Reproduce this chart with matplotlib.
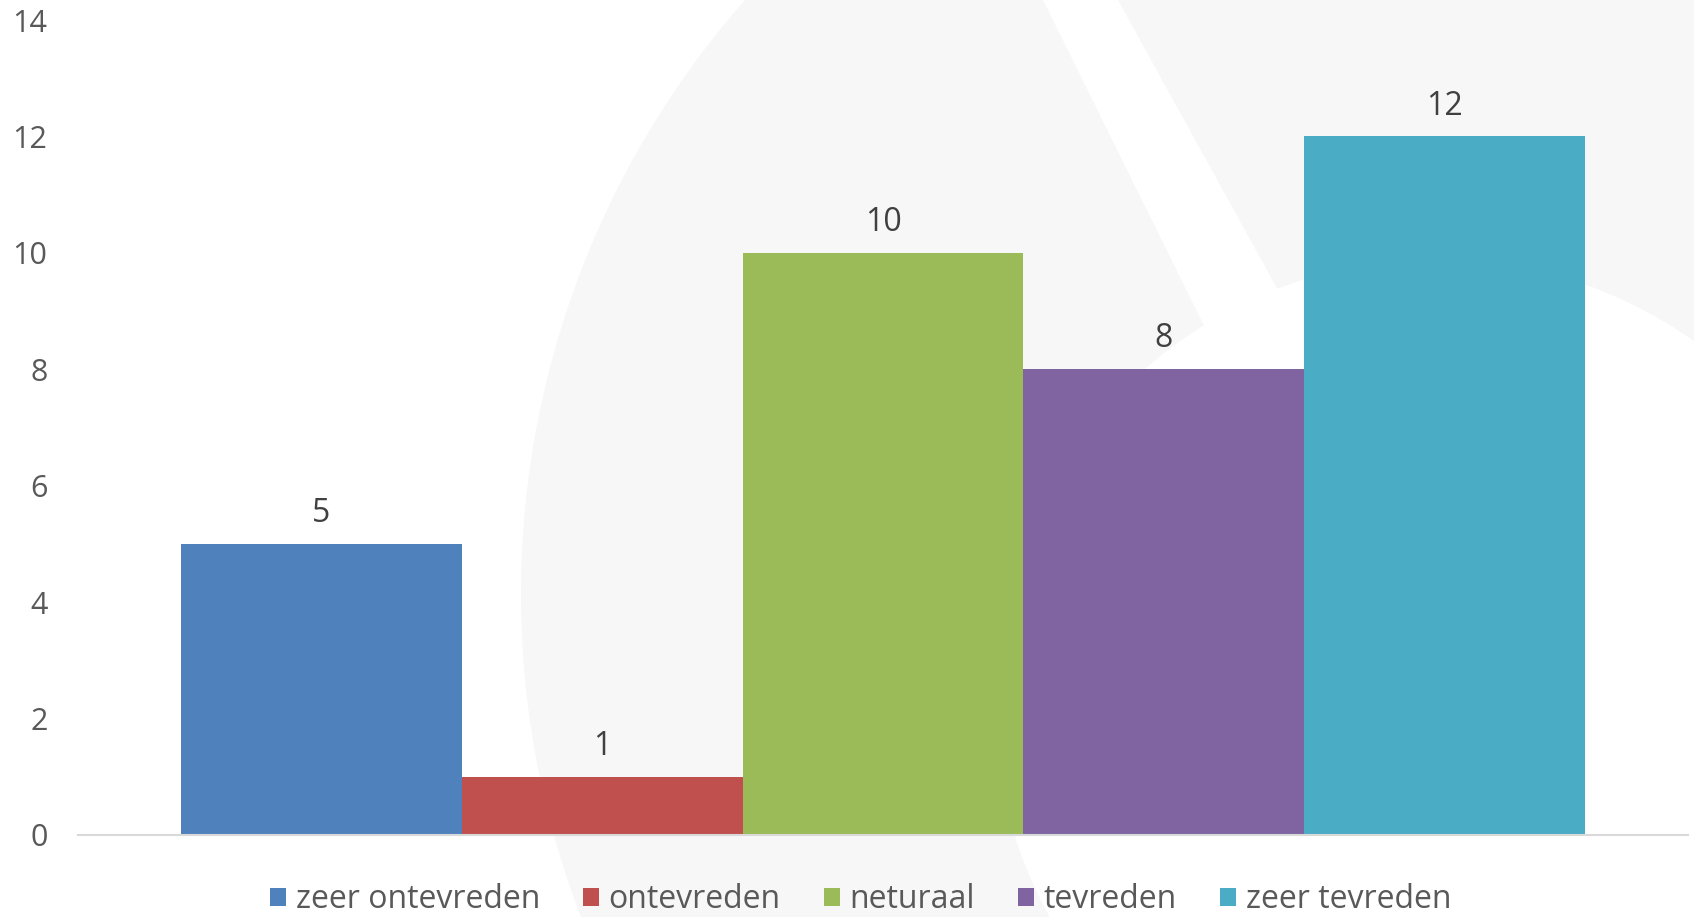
import matplotlib
matplotlib.use('Agg')
import matplotlib.pyplot as plt
from matplotlib.patches import Circle, Polygon, Patch

# survey answers (one category, five series)
categories = ['zeer ontevreden', 'ontevreden', 'neturaal', 'tevreden', 'zeer tevreden']
counts = [5, 1, 10, 8, 12]
colors = ['#4F81BD', '#C0504D', '#9BBB59', '#8064A2', '#4BACC6']
y_ticks = [0, 2, 4, 6, 8, 10, 12, 14]

plt.rcParams['font.family'] = ['Open Sans', 'DejaVu Sans']

fig = plt.figure(figsize=(16.94, 9.17), dpi=100)

# faint watermark behind the chart (figure pixel coordinates)
bg = fig.add_axes([0, 0, 1, 1], zorder=0)
bg.set_xlim(0, 1694)
bg.set_ylim(917, 0)
bg.axis('off')
bg.add_patch(Circle((1421, 594), 900, facecolor='#F7F7F7', edgecolor='none'))
bg.add_patch(Polygon([(1043, 0), (1118, 0), (1300, 330), (1222, 362)],
                     closed=True, facecolor='white', edgecolor='none'))
bg.add_patch(Circle((1437, 702), 443, facecolor='white', edgecolor='none'))

ax = fig.add_axes([78 / 1694, 82 / 917, 1610 / 1694, 815 / 917], zorder=1)
ax.patch.set_alpha(0)

positions = list(range(len(categories)))
for pos, value, color, name in zip(positions, counts, colors, categories):
    ax.bar(pos, value, width=1.0, color=color, label=name, zorder=2)
    ax.annotate(str(value), (pos, value), xytext=(0, 10), textcoords='offset points',
                ha='center', va='bottom', fontsize=23, color='#404040')

gap = 103 / 281
ax.set_xlim(-0.5 - gap, len(categories) - 0.5 + gap)
ax.set_ylim(0, 14)
ax.set_yticks(y_ticks)
ax.set_xticks([])
ax.tick_params(axis='y', length=0, pad=22, labelsize=22, labelcolor='#595959')

for side in ['top', 'right', 'left']:
    ax.spines[side].set_visible(False)
ax.spines['bottom'].set_color('#D9D9D9')
ax.spines['bottom'].set_linewidth(1.5)
ax.spines['bottom'].set_zorder(3)

handles = [Patch(facecolor=c, edgecolor='none') for c in colors]
leg = fig.legend(handles, categories, loc='center', bbox_to_anchor=(0.508, 0.019),
                 ncol=5, frameon=False, fontsize=23, handlelength=0.5,
                 handleheight=0.5, handletextpad=0.3, columnspacing=1.35,
                 borderaxespad=0)
for t in leg.get_texts():
    t.set_color('#595959')

fig.savefig('out.png', dpi=100)
